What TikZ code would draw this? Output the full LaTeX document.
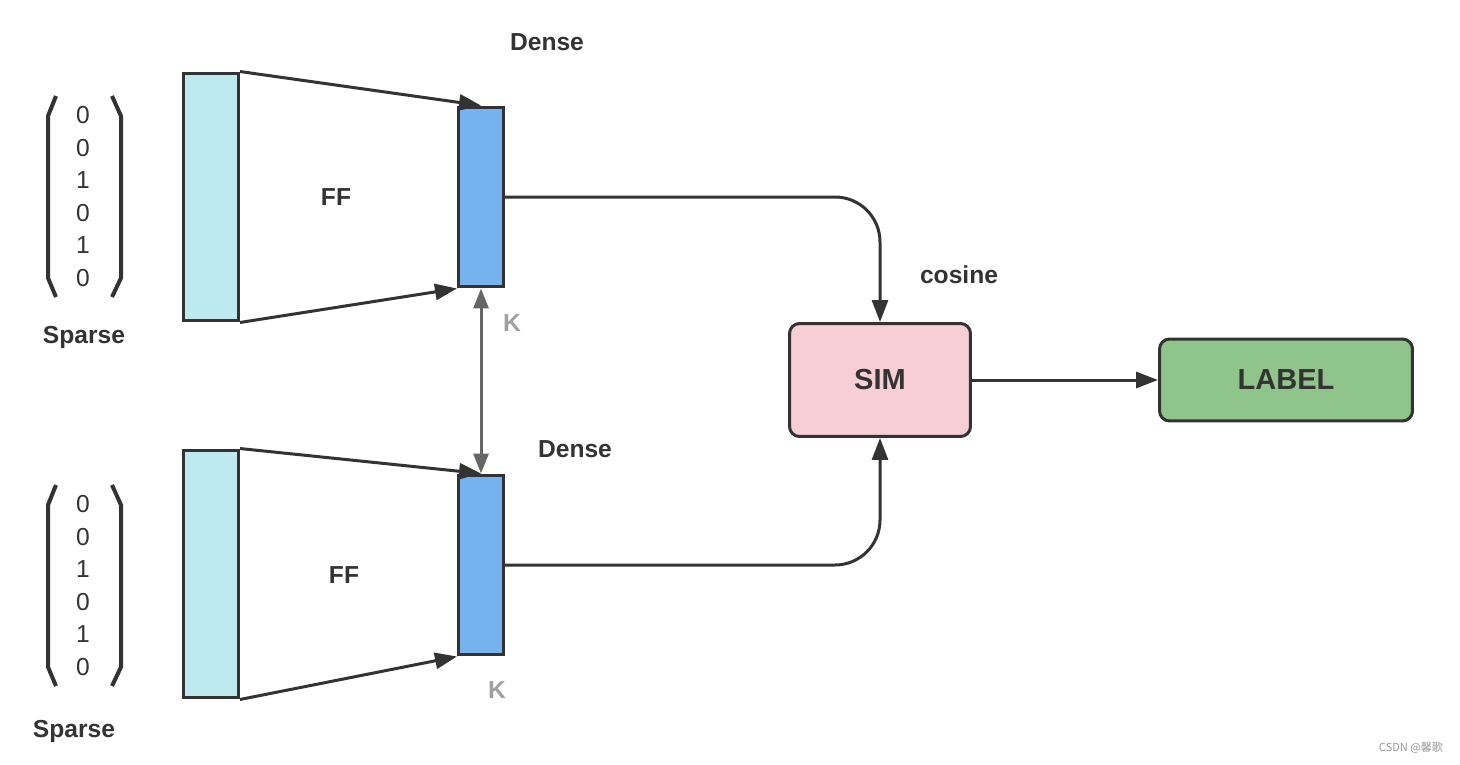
\documentclass[tikz,border=0pt]{standalone}
\usepackage{fontspec}
\setmainfont{Liberation Sans}
\newfontfamily\cjk{Noto Sans CJK SC}
\usepackage{xcolor}
\usetikzlibrary{arrows.meta,positioning}

\definecolor{ink}{RGB}{51,51,51}
\definecolor{kgray}{RGB}{102,102,102}
\definecolor{ktext}{RGB}{160,160,160}
\definecolor{sparsefill}{RGB}{190,233,239}
\definecolor{densefill}{RGB}{118,179,238}
\definecolor{simfill}{RGB}{246,206,212}
\definecolor{labelfill}{RGB}{143,196,138}

\begin{document}
\begin{tikzpicture}[x=0.02cm, y=-0.02cm,
    >={Triangle[length=0.44cm, width=0.32cm]},
    sparsebox/.style={rectangle, draw=ink, line width=0.06cm, fill=sparsefill, minimum width=1.1cm, minimum height=4.96cm, inner sep=0pt},
    densebox/.style={rectangle, draw=ink, line width=0.06cm, fill=densefill, minimum width=0.9cm, minimum height=3.6cm, inner sep=0pt},
    block/.style={rectangle, rounded corners=0.2cm, draw=ink, line width=0.06cm, align=center, font=\fontsize{16.5}{19}\selectfont\bfseries, text=ink},
    lbl/.style={font=\fontsize{14}{16}\selectfont\bfseries, text=ink},
    klbl/.style={lbl, text=ktext},
    digit/.style={font=\fontsize{14}{16}\selectfont, text=ink},
    paren/.style={draw=ink, line width=0.08cm},
    arrow/.style={->, draw=ink, line width=0.06cm}
]
\useasboundingbox (0,0) rectangle (1460,764);

% Sparse vectors
\foreach \off/\name in {0/a, 389/b} {
  \draw[paren] (56,96+\off) -- (48,116+\off) -- (48,278+\off) -- (56,297+\off);
  \draw[paren] (112,96+\off) -- (121,116+\off) -- (121,278+\off) -- (112,297+\off);
  \foreach \v [count=\i from 0] in {0,0,1,0,1,0}
    \node[digit] (num\name\i) at (83,115+\off+32.6*\i) {\v};
}

% Upper tower
\node[sparsebox] (sparse1) at (211,197) {};
\node[densebox] (dense1) at (481,197) {};
\node[lbl] (ff1) at (336,197) {FF};
\node[lbl] (dlabel1) at (547,42) {Dense};
\node[lbl] (slabel1) at (84,337) {Sparse};
\node[klbl] (k1) at (512,323) {K};

% Lower tower
\node[sparsebox] (sparse2) at (211,574) {};
\node[densebox] (dense2) at (481,565) {};
\node[lbl] (ff2) at (344,575) {FF};
\node[lbl] (dlabel2) at (575,449) {Dense};
\node[lbl] (slabel2) at (74,731) {Sparse};
\node[klbl] (k2) at (497,690) {K};

% Similarity and output
\node[block, fill=simfill, minimum width=3.62cm, minimum height=2.26cm] (sim) at (880,380) {SIM};
\node[block, fill=labelfill, minimum width=5.06cm, minimum height=1.64cm] (label) at (1286,380) {LABEL};
\node[lbl] (cos) at (959,275) {cosine};

% Arrows
\draw[arrow] (sparse1.north east) -- (dense1.north);
\draw[arrow] (sparse1.south east) -- (dense1.south west);
\draw[arrow] (sparse2.north east) -- (dense2.north);
\draw[arrow] (sparse2.south east) -- (dense2.south west);
\draw[<->, draw=kgray, line width=0.06cm, >={Triangle[length=0.4cm, width=0.3cm]}] (dense1.south) -- (dense2.north);
\draw[arrow, rounded corners=0.9cm] (dense1.east) -| (sim.north);
\draw[arrow, rounded corners=0.9cm] (dense2.east) -| (sim.south);
\draw[arrow] (sim) -- (label);

% Watermark
\node[text=gray!80, font=\cjk\fontsize{6.3}{7}\selectfont] (mark) at (1411,748) {CSDN @馨歌};

\end{tikzpicture}
\end{document}
